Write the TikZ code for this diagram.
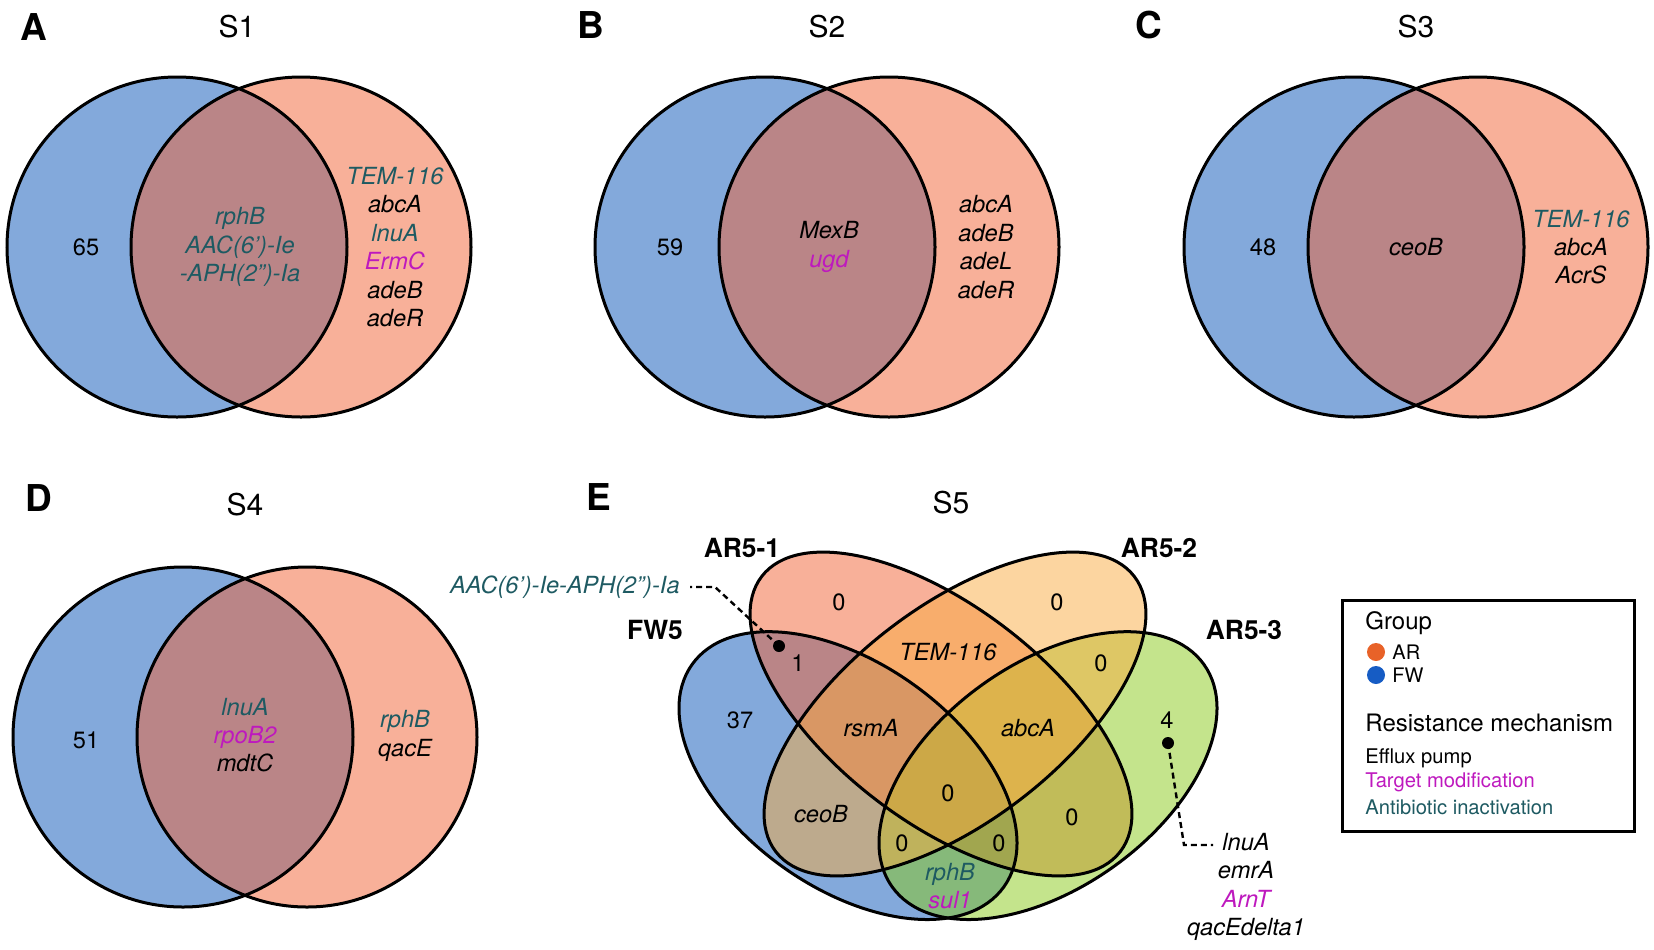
\documentclass[tikz,border=0pt]{standalone}
\usepackage{fontspec}
\setmainfont{TeX Gyre Heros}
\usetikzlibrary{positioning}

\definecolor{fwblue}{RGB}{8,84,184}
\definecolor{arred}{RGB}{242,98,52}
\definecolor{arorange}{RGB}{249,171,65}
\definecolor{argreen}{RGB}{137,201,25}
\definecolor{inact}{RGB}{30,90,98}
\definecolor{targmod}{RGB}{190,25,190}
\definecolor{dotar}{RGB}{232,98,40}
\definecolor{dotfw}{RGB}{22,92,196}

\tikzset{
	setfill/.style={fill=#1, fill opacity=0.5},
	setline/.style={draw=black, line width=1.5pt},
	gene/.style={font=\fontsize{11.8}{14.2}\selectfont\itshape, align=center},
	count/.style={font=\fontsize{11.8}{14.2}\selectfont},
	panel/.style={font=\fontsize{18.5}{22}\selectfont\bfseries},
	paneltitle/.style={font=\fontsize{15}{18}\selectfont},
	setname/.style={font=\fontsize{13.2}{16}\selectfont\bfseries},
	leader/.style={dash pattern=on 3pt off 2pt, line width=1.2pt},
	legtext/.style={anchor=west, inner sep=0pt}
}

\begin{document}
\begin{tikzpicture}[x=0.5pt, y=-0.5pt]
		\useasboundingbox (0,0) rectangle (1654,949);
		% two-set panels
		\foreach \bx/\by in {177/247, 765/247, 1354/247, 183/737}
		{
			\fill[setfill=fwblue] (\bx,\by) circle (85pt);
			\fill[setfill=arred] (\bx+124,\by) circle (85pt);
			\draw[setline] (\bx,\by) circle (85pt);
			\draw[setline] (\bx+124,\by) circle (85pt);
		}
		\node[panel] (labA) at (34,27) {A};
		\node[paneltitle] (titA) at (237,27) {S1};
		\node[count] (numA) at (86,247) {65};
		\node[gene, text=inact] (midA) at (240,247) {rphB\\AAC(6’)-Ie\\-APH(2”)-Ia};
		\node[gene] (rgtA) at (395,247) {\textcolor{inact}{TEM-116}\\abcA\\\textcolor{inact}{lnuA}\\\textcolor{targmod}{ErmC}\\adeB\\adeR};
		\node[panel] (labB) at (591,25) {B};
		\node[paneltitle] (titB) at (827,27) {S2};
		\node[count] (numB) at (670,247) {59};
		\node[gene] (midB) at (829,247) {MexB\\\textcolor{targmod}{ugd}};
		\node[gene] (rgtB) at (986,247) {abcA\\adeB\\adeL\\adeR};
		\node[panel] (labC) at (1149,25) {C};
		\node[paneltitle] (titC) at (1416,27) {S3};
		\node[count] (numC) at (1263,247) {48};
		\node[gene] (midC) at (1416,247) {ceoB};
		\node[gene] (rgtC) at (1581,247) {\textcolor{inact}{TEM-116}\\abcA\\AcrS};
		\node[panel] (labD) at (39,498) {D};
		\node[paneltitle] (titD) at (245,505) {S4};
		\node[count] (numD) at (86,740) {51};
		\node[gene] (midD) at (245,735) {\textcolor{inact}{lnuA}\\\textcolor{targmod}{rpoB2}\\mdtC};
		\node[gene] (rgtD) at (405,736) {\textcolor{inact}{rphB}\\qacE};
		% four-set panel
		\node[panel] (labE) at (599,497) {E};
		\node[paneltitle] (titE) at (951,503) {S5};
		\foreach \ex/\ey/\rot/\ra/\rb/\col in {848/775.6/-35.5/95.75pt/56.1pt/fwblue, 941/714/-37.5/113pt/53.8pt/arred, 1048/775.6/35.5/95.75pt/56.1pt/argreen, 955/714/37.5/113pt/53.8pt/arorange}
		{
			\fill[setfill=\col, shift={(\ex,\ey)}, rotate=\rot] (0,0) ellipse [x radius=\ra, y radius=\rb];
		}
		\foreach \ex/\ey/\rot/\ra/\rb in {848/775.6/-35.5/95.75pt/56.1pt, 941/714/-37.5/113pt/53.8pt, 955/714/37.5/113pt/53.8pt, 1048/775.6/35.5/95.75pt/56.1pt}
		{
			\draw[setline, shift={(\ex,\ey)}, rotate=\rot] (0,0) ellipse [x radius=\ra, y radius=\rb];
		}
		\node[setname] (fw5) at (655,630) {FW5};
		\node[setname] (ar51) at (742,548) {AR5-1};
		\node[setname] (ar52) at (1159,548) {AR5-2};
		\node[setname] (ar53) at (1244,630) {AR5-3};
		\node[count] (e1) at (839,602) {0};
		\node[count] (e2) at (1057,602) {0};
		\node[count] (e3) at (798,663) {1};
		\node[gene] (e4) at (948,652) {TEM-116};
		\node[count] (e5) at (1101,663) {0};
		\node[count] (e6) at (740,720) {37};
		\node[gene] (e7) at (871,728) {rsmA};
		\node[gene] (e8) at (1028,728) {abcA};
		\node[count] (e9) at (1167,720) {4};
		\node[count] (e10) at (948,793) {0};
		\node[gene] (e11) at (821,814) {ceoB};
		\node[count] (e12) at (1072,817) {0};
		\node[count] (e13) at (902,843) {0};
		\node[count] (e14) at (999,843) {0};
		\node[gene] (e15) at (950,886) {\textcolor{inact}{rphB}\\\textcolor{targmod}{sul1}};
		% leaders
		\coordinate (dotA) at (779,646);
		\coordinate (bendA) at (715,587);
		\node[gene, text=inact, anchor=east, inner sep=0pt] (aac) at (680,587) {AAC(6’)-Ie-APH(2”)-Ia};
		\fill (dotA) circle (3pt);
		\draw[leader] (dotA) -- (bendA) -- ([xshift=5pt]aac.east);
		\coordinate (dotB) at (1168,743);
		\coordinate (bendB) at (1184,845);
		\coordinate (endB) at (1213,845);
		\node[gene] (lst) at (1246,887) {lnuA\\emrA\\\textcolor{targmod}{ArnT}\\qacEdelta1};
		\fill (dotB) circle (3pt);
		\draw[leader] (dotB) -- (bendB) -- (endB);
		% legend
		\node[draw, line width=1.5pt, minimum width=146pt, minimum height=115.5pt] (legbox) at (1488,715.5) {};
		\node[legtext, font=\fontsize{12}{14}\selectfont] (grp) at (1365,623) {Group};
		\fill[dotar] (1376,652) circle (4.5pt);
		\node[legtext, font=\fontsize{10}{12}\selectfont] (arl) at (1392,652) {AR};
		\fill[dotfw] (1376,675) circle (4.5pt);
		\node[legtext, font=\fontsize{10}{12}\selectfont] (fwl) at (1392,675) {FW};
		\node[legtext, font=\fontsize{12}{14}\selectfont] (mech) at (1365,723) {Resistance mechanism};
		\node[legtext, font=\fontsize{10.1}{12}\selectfont] (eff) at (1365,758) {Efflux pump};
		\node[legtext, font=\fontsize{10.1}{12}\selectfont, text=targmod] (tmod) at (1365,782) {Target modification};
		\node[legtext, font=\fontsize{10.1}{12}\selectfont, text=inact] (inac) at (1365,807) {Antibiotic inactivation};
\end{tikzpicture}
\end{document}
